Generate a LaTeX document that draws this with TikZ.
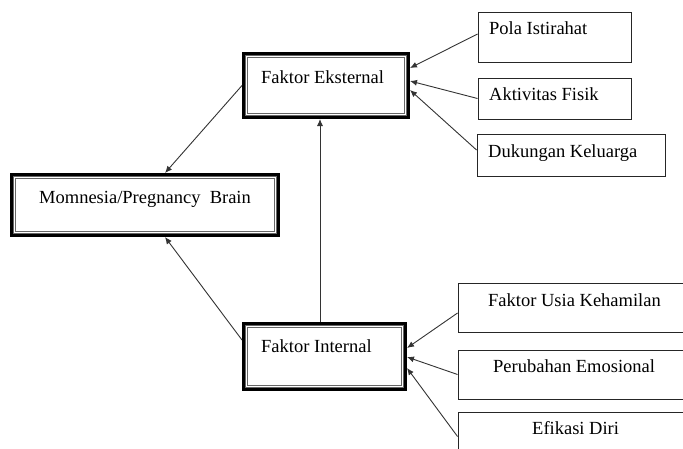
\documentclass[tikz,border=0pt]{standalone}
\usepackage{fontspec}
\setmainfont{Liberation Serif}
\usetikzlibrary{arrows.meta}
\begin{document}
\begin{tikzpicture}[x=1pt,y=-1pt,
  ttbox/.style={draw=black, line width=4pt, inner sep=0pt, outer sep=2pt},
  innerline/.style={draw=gray!80!black, line width=0.9pt},
  thinbox/.style={draw=black!85, line width=0.9pt, inner sep=0pt},
  lbl/.style={inner sep=0pt, font=\fontsize{18.5}{22}\selectfont},
  conn/.style={draw=black!80, line width=0.9pt, -{Latex[length=7pt,width=6pt]}}]
\useasboundingbox (0,0) rectangle (683,448);
% main boxes (outer edges: line width 4 centred on path)
\node[ttbox, minimum width=164pt, minimum height=63pt] (fe) at (326,85.5) {};
\node[ttbox, minimum width=266pt, minimum height=60pt] (mb) at (145,205) {};
\node[ttbox, minimum width=161pt, minimum height=65pt] (fi) at (324.5,356.5) {};
\foreach \n in {fe,mb,fi}{
  \draw[innerline] ([shift={(3.5pt,-3.5pt)}]\n.north west) rectangle ([shift={(-3.5pt,3.5pt)}]\n.south east);
  \draw[innerline] ([shift={(5.5pt,-5.5pt)}]\n.north west) rectangle ([shift={(-5.5pt,5.5pt)}]\n.south east);
}
% right boxes
\node[thinbox, minimum width=153pt, minimum height=50pt] (pi) at (554.5,37) {};
\node[thinbox, minimum width=153pt, minimum height=41pt] (af) at (554.5,98.5) {};
\node[thinbox, minimum width=188pt, minimum height=42pt] (dk) at (571,155) {};
\node[thinbox, minimum width=232pt, minimum height=49pt] (us) at (574,307.5) {};
\node[thinbox, minimum width=232pt, minimum height=49pt] (em) at (574,374.5) {};
\node[thinbox, minimum width=232pt, minimum height=49pt] (ef) at (574,436.5) {};
% labels
\node[lbl, anchor=base west] (fe-t) at (261,83) {Faktor Eksternal};
\node[lbl, anchor=base] (mb-t) at (145,203) {Momnesia/Pregnancy\ \ Brain};
\node[lbl, anchor=base west] (fi-t) at (261,352) {Faktor Internal};
\node[lbl, anchor=base west] (pi-t) at (489,34) {Pola Istirahat};
\node[lbl, anchor=base west] (af-t) at (489,100) {Aktivitas Fisik};
\node[lbl, anchor=base west] (dk-t) at (488,157) {Dukungan Keluarga};
\node[lbl, anchor=base west] (us-t) at (488,306) {Faktor Usia Kehamilan};
\node[lbl, anchor=base west] (em-t) at (493,372) {Perubahan Emosional};
\node[lbl, anchor=base west] (ef-t) at (532,434) {Efikasi Diri};
% connectors
\draw[conn] ([yshift=3pt]pi.west) -- ([yshift=17.5pt]fe.east);
\draw[conn] (af.west) -- ([yshift=4.5pt]fe.east);
\draw[conn] ([yshift=5pt]dk.west) -- ([yshift=-4.5pt]fe.east);
\draw[conn] ([yshift=-5.5pt]us.west) -- ([yshift=8.5pt]fi.east);
\draw[conn] (em.west) -- ([yshift=-0.5pt]fi.east);
\draw[conn] (ef.west) -- ([yshift=-11.5pt]fi.east);
\draw[conn] (fe.west) -- ([xshift=20pt]mb.north);
\draw[conn] ([yshift=16.5pt]fi.west) -- ([xshift=20pt]mb.south);
\draw[conn] ([xshift=-4.5pt]fi.north) -- ([xshift=-6pt]fe.south);
\end{tikzpicture}
\end{document}
